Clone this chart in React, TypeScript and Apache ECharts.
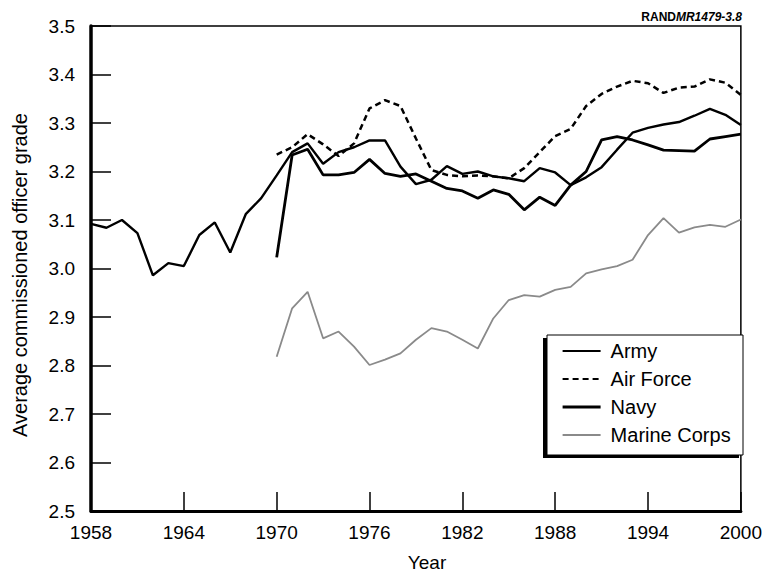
import React, { useEffect, useRef } from "react";
import * as echarts from "echarts";

const FONT = "'Liberation Sans', Arial, Helvetica, sans-serif";

// Category axis years
const years: string[] = Array.from({ length: 43 }, (_, i) => String(1958 + i));
const armyStart = 1958;
const otherStart = 1970;

// Series values
const armyValues = [
  3.092, 3.084, 3.1, 3.073, 2.986, 3.011, 3.005, 3.069, 3.095, 3.033, 3.112, 3.145,
  3.192, 3.24, 3.258, 3.216, 3.24, 3.25, 3.264, 3.264, 3.21, 3.174,
  3.183, 3.211, 3.195, 3.2, 3.19, 3.186, 3.18, 3.207, 3.198, 3.172,
  3.188, 3.209, 3.245, 3.28, 3.29, 3.297, 3.302, 3.315, 3.329, 3.317, 3.296,
];
const airForceValues = [
  3.235, 3.25, 3.277, 3.256, 3.232, 3.258, 3.33, 3.347, 3.335, 3.268,
  3.203, 3.193, 3.19, 3.192, 3.19, 3.186, 3.207, 3.24, 3.273, 3.288,
  3.335, 3.36, 3.375, 3.387, 3.382, 3.362, 3.373, 3.375, 3.39, 3.383, 3.358,
];
const navyValues = [
  3.023, 3.234, 3.246, 3.193, 3.193, 3.198, 3.225, 3.196, 3.19, 3.195,
  3.18, 3.165, 3.16, 3.145, 3.162, 3.153, 3.121, 3.147, 3.13, 3.172,
  3.2, 3.265, 3.272, 3.265, 3.255, 3.244, 3.243, 3.242, 3.267, 3.272, 3.277,
];
const marineValues = [
  2.818, 2.918, 2.952, 2.856, 2.87, 2.839, 2.801, 2.812, 2.825, 2.853,
  2.877, 2.87, 2.853, 2.835, 2.897, 2.935, 2.945, 2.942, 2.956, 2.962,
  2.99, 2.998, 3.005, 3.018, 3.069, 3.104, 3.074, 3.085, 3.09, 3.086, 3.101,
];

const seriesNames = ["Army", "Air Force", "Navy", "Marine Corps"];

function pairs(start: number, vals: number[]) {
  return vals.map((v, i) => [String(start + i), v]);
}

export default function App() {
  const ref = useRef<HTMLDivElement>(null);
  useEffect(() => {
    const chart = echarts.init(ref.current!, null, { renderer: "svg" });
    chart.setOption({
      animation: false,
      backgroundColor: "#ffffff",
      title: {
        text: "{b|RAND}{i|MR1479-3.8}",
        right: 18,
        top: 6,
        textStyle: {
          rich: {
            b: { fontFamily: FONT, fontWeight: "bold", fontSize: 12, color: "#000" },
            i: { fontFamily: FONT, fontStyle: "italic", fontSize: 12, color: "#000" },
          },
        },
      },
      grid: {
        left: 91,
        right: 15,
        top: 26,
        bottom: 66,
        show: true,
        borderColor: "#000",
        borderWidth: 1.5,
        backgroundColor: "transparent",
      },
      xAxis: {
        type: "category",
        data: years,
        boundaryGap: false,
        axisLine: { show: true, lineStyle: { color: "#000", width: 3 } },
        axisTick: { show: true, inside: true, length: 19, interval: 5, lineStyle: { color: "#000", width: 1.5 } },
        axisLabel: { interval: 5, margin: 12, fontSize: 19, color: "#000", fontFamily: FONT },
        splitLine: { show: false },
      },
      yAxis: {
        type: "value",
        min: 2.5,
        max: 3.5,
        interval: 0.1,
        axisLine: { show: true, lineStyle: { color: "#000", width: 3.5 } },
        axisTick: { show: true, inside: true, length: 20, lineStyle: { color: "#000", width: 1.5 } },
        axisLabel: {
          margin: 16,
          fontSize: 19,
          color: "#000",
          fontFamily: FONT,
          formatter: (v: number) => v.toFixed(1),
        },
        splitLine: { show: false },
      },
      legend: {
        orient: "vertical",
        left: 561,
        top: 341,
        itemWidth: 38,
        itemHeight: 20,
        itemGap: 8,
        padding: 0,
        z: 10,
        data: [
          { name: seriesNames[0], lineStyle: { width: 1.8 } },
          { name: seriesNames[1], lineStyle: { width: 2.2 } },
          { name: seriesNames[2], lineStyle: { width: 3.2 } },
          { name: seriesNames[3], lineStyle: { width: 1.8 } },
        ],
        itemStyle: { opacity: 0 },
        textStyle: { fontSize: 20, color: "#000", fontFamily: FONT, padding: [0, 0, 0, 5] },
      },
      graphic: [
        { type: "rect", z: 5, shape: { x: 543, y: 338, width: 196, height: 120 }, style: { fill: "#000" } },
        {
          type: "rect",
          z: 6,
          shape: { x: 547, y: 335, width: 196, height: 120 },
          style: { fill: "#fff", stroke: "#000", lineWidth: 1 },
        },
        {
          type: "text",
          x: 20,
          y: 275,
          rotation: Math.PI / 2,
          style: {
            text: "Average commissioned officer grade",
            fontSize: 20,
            fontFamily: FONT,
            fill: "#000",
            align: "center",
            verticalAlign: "middle",
          },
        },
        {
          type: "text",
          x: 427,
          y: 562,
          style: {
            text: "Year",
            fontSize: 19,
            fontFamily: FONT,
            fill: "#000",
            align: "center",
            verticalAlign: "middle",
          },
        },
      ],
      series: [
        {
          name: "Army",
          type: "line",
          symbol: "none",
          data: pairs(armyStart, armyValues),
          lineStyle: { color: "#000", width: 2.4 },
          itemStyle: { color: "#000" },
        },
        {
          name: "Air Force",
          type: "line",
          symbol: "none",
          data: pairs(otherStart, airForceValues),
          lineStyle: { color: "#000", width: 2.5, type: [6, 4] },
          itemStyle: { color: "#000" },
        },
        {
          name: "Navy",
          type: "line",
          symbol: "none",
          data: pairs(otherStart, navyValues),
          lineStyle: { color: "#000", width: 2.8 },
          itemStyle: { color: "#000" },
        },
        {
          name: "Marine Corps",
          type: "line",
          symbol: "none",
          data: pairs(otherStart, marineValues),
          lineStyle: { color: "#8a8a8a", width: 1.8 },
          itemStyle: { color: "#8a8a8a" },
        },
      ],
    });
    return () => chart.dispose();
  }, []);
  return (
    <div
      ref={ref}
      style={{ position: "fixed", left: 0, top: 0, width: 765, height: 577, background: "#fff" }}
    />
  );
}
